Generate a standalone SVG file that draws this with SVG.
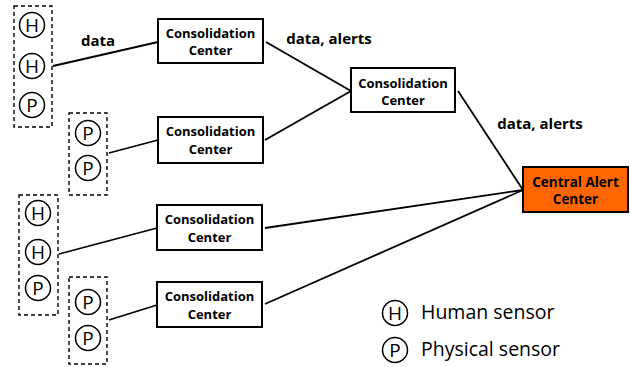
<svg xmlns="http://www.w3.org/2000/svg" width="630" height="367" viewBox="0 0 630 367">
<style>
.box{fill:#fff;stroke:#000;stroke-width:2}
.alert{fill:#ff6600;stroke:#000;stroke-width:2}
.grp{fill:none;stroke:#000;stroke-width:1.4;stroke-dasharray:4,3}
.sen{fill:#fff;stroke:#000;stroke-width:1.5}
.lt{font-family:"Open Sans","Liberation Sans",sans-serif;font-size:19px;text-anchor:middle;fill:#000}
.nt{font-family:"Open Sans","Liberation Sans",sans-serif;font-size:13px;font-weight:bold;text-anchor:middle;fill:#000}
.at{font-family:"Open Sans","Liberation Sans",sans-serif;font-size:13.5px;font-weight:bold;text-anchor:middle;fill:#000}
.el{font-family:"Open Sans","Liberation Sans",sans-serif;font-size:15px;font-weight:bold;fill:#000}
.leg{font-family:"Open Sans","Liberation Sans",sans-serif;font-size:19.5px;fill:#000}
.c{stroke:#000;stroke-width:1.8;fill:none}
</style>
<rect width="630" height="367" fill="#fff"/>
<g id="connectors">
<line class="c" x1="53" y1="66" x2="158" y2="42"/>
<line class="c" x1="109" y1="153" x2="158" y2="140"/>
<line class="c" x1="59" y1="254" x2="157" y2="228"/>
<line class="c" x1="109" y1="320" x2="157" y2="305"/>
<line class="c" x1="266" y1="42" x2="351" y2="91"/>
<line class="c" x1="265" y1="140" x2="351" y2="91"/>
<line class="c" x1="458" y1="91" x2="523" y2="190"/>
<line class="c" x1="265" y1="228" x2="523" y2="190"/>
<line class="c" x1="265" y1="304" x2="523" y2="190"/>
<text class="el" x="98" y="46" text-anchor="middle">data</text>
<text class="el" x="329" y="44" text-anchor="middle">data, alerts</text>
<text class="el" x="540" y="129" text-anchor="middle">data, alerts</text>
</g>
<g id="group1">
<rect class="grp" x="14" y="6" width="38" height="121"/>
<circle class="sen" cx="32" cy="25" r="12.5"/><text class="lt" x="32" y="32">H</text>
<circle class="sen" cx="32" cy="66" r="12.5"/><text class="lt" x="32" y="73">H</text>
<circle class="sen" cx="32" cy="105" r="12.5"/><text class="lt" x="32" y="112">P</text>
</g>
<g id="group2">
<rect class="grp" x="69" y="113" width="38" height="82"/>
<circle class="sen" cx="88" cy="133" r="12.5"/><text class="lt" x="88" y="140">P</text>
<circle class="sen" cx="88" cy="168" r="12.5"/><text class="lt" x="88" y="175">P</text>
</g>
<g id="group3">
<rect class="grp" x="19" y="195" width="39" height="120"/>
<circle class="sen" cx="38" cy="213" r="12.5"/><text class="lt" x="38" y="220">H</text>
<circle class="sen" cx="38" cy="252" r="12.5"/><text class="lt" x="38" y="259">H</text>
<circle class="sen" cx="38" cy="288" r="12.5"/><text class="lt" x="38" y="295">P</text>
</g>
<g id="group4">
<rect class="grp" x="69" y="277" width="38" height="87"/>
<circle class="sen" cx="88" cy="302" r="12.5"/><text class="lt" x="88" y="309">P</text>
<circle class="sen" cx="88" cy="338" r="12.5"/><text class="lt" x="88" y="345">P</text>
</g>
<g id="cc1">
<rect class="box" x="158" y="19" width="105" height="44"/>
<text class="nt" x="210.5" y="37.5">Consolidation</text>
<text class="nt" x="210.5" y="55">Center</text>
</g>
<g id="cc2">
<rect class="box" x="158" y="117" width="105" height="46"/>
<text class="nt" x="210.5" y="136">Consolidation</text>
<text class="nt" x="210.5" y="154">Center</text>
</g>
<g id="cc3">
<rect class="box" x="157" y="205" width="105" height="45"/>
<text class="nt" x="209.5" y="224">Consolidation</text>
<text class="nt" x="209.5" y="242">Center</text>
</g>
<g id="cc4">
<rect class="box" x="157" y="282" width="105" height="45"/>
<text class="nt" x="209.5" y="301">Consolidation</text>
<text class="nt" x="209.5" y="319">Center</text>
</g>
<g id="cc5">
<rect class="box" x="351" y="68" width="104" height="44"/>
<text class="nt" x="403" y="87.5">Consolidation</text>
<text class="nt" x="403" y="105">Center</text>
</g>
<g id="central">
<rect class="alert" x="523" y="167" width="105" height="45"/>
<text class="at" x="575.5" y="187">Central Alert</text>
<text class="at" x="575.5" y="204">Center</text>
</g>
<g id="legend">
<circle class="sen" cx="395" cy="313" r="12.5"/><text class="lt" x="395" y="320">H</text>
<text class="leg" x="421" y="319">Human sensor</text>
<circle class="sen" cx="395" cy="350" r="12.5"/><text class="lt" x="395" y="357">P</text>
<text class="leg" x="421" y="356">Physical sensor</text>
</g>
</svg>
